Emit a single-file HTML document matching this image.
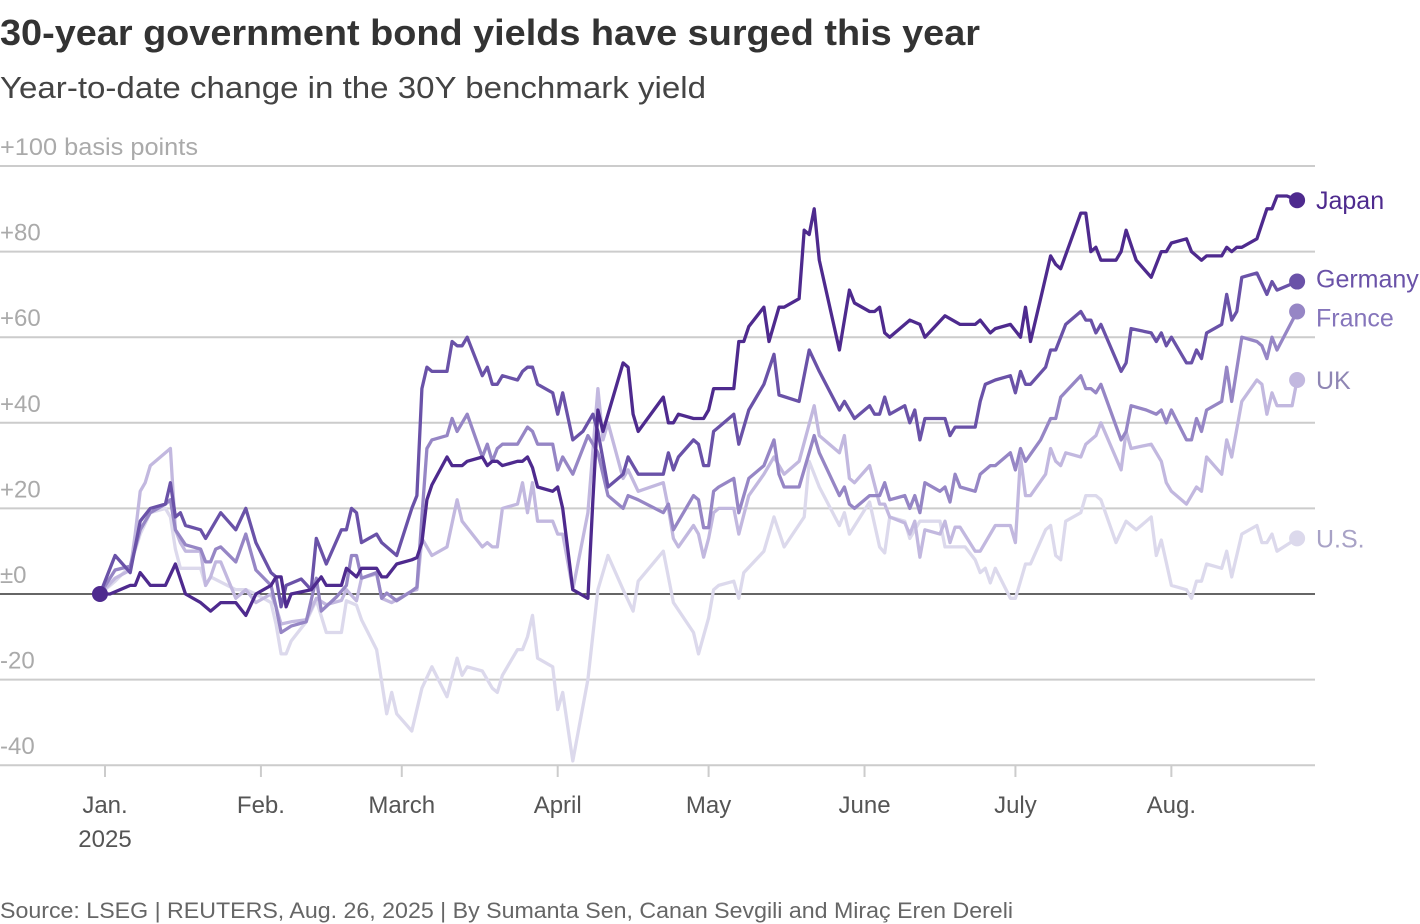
<!DOCTYPE html>
<html><head><meta charset="utf-8"><style>
body{margin:0;background:#fff;font-family:"Liberation Sans",sans-serif}
svg{display:block}
</style></head><body>
<svg id="chart" width="1420" height="924" viewBox="0 0 1420 924" xmlns="http://www.w3.org/2000/svg">
<text x="0" y="45" font-size="36" font-weight="bold" fill="#333" textLength="980" lengthAdjust="spacingAndGlyphs">30-year government bond yields have surged this year</text>
<text x="0" y="98" font-size="31" fill="#444" textLength="706" lengthAdjust="spacingAndGlyphs">Year-to-date change in the 30Y benchmark yield</text>
<g id="grid"></g>
<g id="xaxis"></g>
<g id="series"></g>
<text x="0" y="918" font-size="22" fill="#666" textLength="1013" lengthAdjust="spacingAndGlyphs">Source: LSEG | REUTERS, Aug. 26, 2025 | By Sumanta Sen, Canan Sevgili and Miraç Eren Dereli</text>
</svg>
<script>
const yTicks=[100,80,60,40,20,0,-20,-40];
const yTickLabels=["+100 basis points","+80","+60","+40","+20","±0","-20","-40"];
const monthDays=[0,31,59,90,120,151,181,212];
const monthLabels=["Jan.","Feb.","March","April","May","June","July","Aug."];
const seriesNames=["U.S.","UK","France","Germany","Japan"];
const usDays=[-1,2,5,7,9,12,13,14,15,19,20,21,26,28,30,33,34,35,36,37,40,42,44,47,48,50,51,54,56,57,58,61,63,65,68,70,71,72,75,77,78,79,82,83,84,85,86,89,90,91,93,96,98,100,103,105,106,111,113,117,118,120,121,122,125,126,127,131,133,135,139,140,142,146,147,148,152,154,155,156,159,160,162,166,167,171,173,174,175,176,177,180,181,182,183,184,187,188,189,190,191,194,195,197,198,201,203,205,208,209,210,212,215,216,217,218,219,222,223,224,226,229,230,231,232,233,237];
const usVals=[0,3,6.5,14,19,20,18,10.5,6,6,2,4,1,1,0,-2,-7,-14,-14,-11,-6.5,-1.4,-9,-9,-1.6,-2.6,-6,-13,-28,-23,-28,-32,-22,-17,-24,-15,-19,-17,-18,-22,-23,-19,-13,-13,-10,-5,-15,-17,-27,-23,-39,-20,1,9,1,-4,3,10,-2,-9,-14,-5.6,1,2,3,-1,5,10,18,11,18,31,25,16,19,14,21.5,11,9.6,18,17,13,17,17,11,11,8,5,6,2.6,6,-1,-1,3,7,7,15,16,9,8,17,19,23,23,22,12,17,15,18,9,12.6,2,1,-1,3,3,7,6,10,4,14,16,12,12,14,10,13];
const ukDays=[-1,2,5,6,7,8,9,13,14,15,16,19,20,21,22,23,26,28,30,33,34,35,37,40,42,44,47,48,50,51,54,55,57,61,62,63,65,68,70,71,75,76,77,78,79,82,83,84,85,86,89,90,91,93,96,98,99,100,103,104,106,111,112,113,114,117,118,119,120,121,122,125,126,128,131,133,135,138,141,142,146,147,148,149,152,154,155,156,159,160,161,162,163,166,167,168,169,170,173,174,177,180,181,182,183,184,187,188,189,190,191,194,195,197,198,202,203,204,208,210,211,212,215,216,217,218,219,222,223,224,226,229,230,231,232,233,236,237];
const ukVals=[0,3.7,5.6,14,24,26,30,34,15,12,10,10,2,4,7.5,7.5,-1,1,-2,0,-3,-7,-6.5,-6,-1,-2.5,-1.5,1,-1.6,3.7,4.7,-1,-2,0.7,1,13,9,11,22,17,11,12,11,11,20,21,26,19,26,17,17,14,14,1,19,48,36,40,27,29,24,26,20,13,11,16,14,8.6,13,19,20,20,14,23,28,32,28,31,44,37,33,37,27,26,30,21,21,18,16.6,14,17,8.6,15,14,17,12,15.6,15.6,10,10,16,16,12,32,23,23,28,34,31,30,33,32,35,37,40,29,38,34,35,31,26,24,21,23,25,24,32,28,36,32,45,50,49,42,47,44,44,50];
const frDays=[-1,2,5,7,8,9,12,13,14,16,19,20,21,22,23,26,28,30,33,34,35,37,40,42,43,46,48,49,50,51,54,55,56,58,61,62,63,64,65,68,69,70,72,75,76,77,78,79,82,84,85,86,89,90,91,93,96,98,100,103,104,106,111,112,113,117,118,119,120,121,122,125,126,128,131,133,134,135,138,141,142,146,147,148,149,152,154,155,156,159,160,161,162,163,166,167,168,169,170,173,174,176,177,180,181,182,183,186,188,189,190,194,195,196,197,198,202,203,204,207,209,210,211,212,215,216,217,218,219,222,223,224,226,229,230,231,232,233,237];
const frVals=[0,5.6,6.5,15,17,19,21,22,15,11.5,10.5,7.5,7.5,10.5,11,7.5,14,5.6,2,-3,-9,-7.5,-6.5,3.7,-4,-0.7,2,9,9,3.7,5,-1,0.2,-1.6,0.7,1.6,18,34,36,37,41,38,42,32,35,31,34,35,35,39,38,35,35,29,32,28,37,33,23,20,23,22,19,21,15,23,22,15.5,15.5,24,25,27,19,27,30,36,28,25,25,37,33,23,25,21,20,23,23,26,22,23,20,23,19,26,24,25,21.5,28,25,24,28,30,30,33,29,34,31,36,41,41,46,51,48,48,47,49,36,38,44,43,42,43,40,43,36,36,41,38,43,45,53,45,60,59,58,55,60,57,66];
const deDays=[-1,2,5,7,9,12,13,14,15,16,19,20,23,26,28,30,33,34,35,36,39,41,42,44,47,48,49,50,51,54,55,58,61,62,63,64,65,68,69,70,71,72,75,76,77,78,79,82,83,84,85,86,89,90,91,93,95,97,98,100,103,104,106,111,112,113,114,117,118,119,120,121,122,125,126,128,131,133,134,138,140,142,146,147,149,152,153,154,155,156,159,160,161,162,163,167,168,169,173,174,175,177,180,181,182,183,184,187,188,189,191,194,195,196,197,198,202,203,204,208,209,210,211,212,215,216,217,218,219,222,223,224,225,226,229,231,232,233,237];
const deVals=[0,9,5,17,20,21,26,18,19,16,15,13,19,15,20,12,5,4,-3,2,3.5,1,13,7,15,15,20,19,12,14,12,9,20,23,48,53,52,52,59,58,58,60,51,53,49,49,51,50,52,53,53,49,47,42,47,36,38,42,38,25,28,32,28,28,33,29,32,36,35,30,30,38,39,42,35,43,49,56,46.5,45,57,52,43,45,41,44,42,42,46,42,44,40,43,36,41,41,37,39,39,45,49,50,51,47,52,49,49,53,57,57,63,66,64,64,61,63,52,54,62,61,59,61,58,60,54,54,57,55,61,63,70,64,66,74,75,70,73,71,73];
const jpDays=[-1,1,5,6,7,9,12,14,16,19,21,23,26,28,30,33,34,35,36,37,41,43,44,47,48,50,51,54,55,56,58,61,62,63,64,65,68,69,71,72,75,76,77,78,79,82,83,84,85,86,89,90,91,93,96,97,98,99,103,104,105,106,111,112,113,114,117,119,120,121,125,126,127,128,131,132,134,135,138,139,140,141,142,146,148,149,152,153,154,155,156,160,162,163,165,167,170,173,174,176,177,180,182,183,184,186,188,189,190,194,195,196,197,198,201,202,203,205,208,210,211,212,215,216,218,219,222,223,224,225,226,229,231,232,233,235,237];
const jpVals=[0,0,2,2,5,2,2,7,0,-2,-4,-2,-2,-5,0,2,4,4,-3,0,1,4,2,2,6,4,6,6,4,4,7,8,8.5,12,22,25.5,32,30,30,31,32,30,31,31,30,31,31,32,29.5,25,24,25,20,1,-1,22,43,38,54,53,42,38,46,40,40,42,41,41,43,48,48,59,59,62.5,67,59,67,67,69,85,84,90,78,57,71,68,66,66,67,61,60,64,63,60,62.5,65,63,63,64,61,62,63,60,67,59,69,79,77,76,89,89,80,81,78,78,80,85,78,74,80,80,82,83,80,78,79,79,81,80,81,81,83,90,90,93,93,92];

const NS="http://www.w3.org/2000/svg";
const X0=105, PXDAY=5.03, Y0=594, PXBP=4.28;
function xs(d){return X0+d*PXDAY;}
function ys(v){return Y0-v*PXBP;}
function mk(tag,attrs,parent){const e=document.createElementNS(NS,tag);for(const k in attrs)e.setAttribute(k,attrs[k]);parent.appendChild(e);return e;}

const grid=document.getElementById('grid');
yTicks.forEach((t,i)=>{
  const ln=mk('line',{x1:0,x2:1315,y1:ys(t),y2:ys(t),stroke:t===0?'#333':'#ccc','stroke-width':t===0?1.5:2},grid);
  
  
  const attrs={x:0,y:ys(t)-11,'font-size':24,fill:'#aaa'};
  if(i===0){attrs.textLength=198;attrs.lengthAdjust='spacingAndGlyphs';}
  const tx=mk('text',attrs,grid);
  tx.textContent=yTickLabels[i];
  
  
});
const xa=document.getElementById('xaxis');
monthDays.forEach((d,i)=>{
  const tk=mk('line',{x1:xs(d),x2:xs(d),y1:766,y2:777,stroke:'#ccc','stroke-width':2},xa);
  
  
  const tx=mk('text',{x:xs(d),y:813,'font-size':24,fill:'#555','text-anchor':'middle'},xa);
  tx.textContent=monthLabels[i];
  
  
});
const yr=mk('text',{x:xs(0),y:847,'font-size':24,fill:'#555','text-anchor':'middle'},xa);
yr.textContent='2025';



const sg=document.getElementById('series');
const allDays=[usDays,ukDays,frDays,deDays,jpDays];
const allVals=[usVals,ukVals,frVals,deVals,jpVals];
const colors=['#dcd9ec','#c2b8df','#9686c5','#6a52a8','#4e2a8e'];
const labelColors=['#a8a2c6','#8f86b4','#8575bb','#6a52a8','#4e2a8e'];
const labelOff=[0,0,6,-3,0];
allDays.forEach((days,s)=>{
  const vals=allVals[s];
  const pts=days.map((d,i)=>xs(d).toFixed(1)+','+ys(vals[i]).toFixed(1)).join(' ');
  const pl=mk('polyline',{points:pts,fill:'none',stroke:colors[s],'stroke-width':3.3,'stroke-linejoin':'round'},sg);
  
  
  const ld=days[days.length-1], lv=vals[vals.length-1];
  const dot=mk('circle',{cx:xs(ld),cy:ys(lv),r:8,fill:colors[s]},sg);
  
  
  const lb=mk('text',{x:1316,y:ys(lv)+9+labelOff[s],'font-size':25,fill:labelColors[s]},sg);
  lb.textContent=seriesNames[s];
  
  
});
const sd=mk('circle',{cx:xs(-1),cy:ys(0),r:8,fill:'#4e2a8e'},sg);


</script>
</body></html>
